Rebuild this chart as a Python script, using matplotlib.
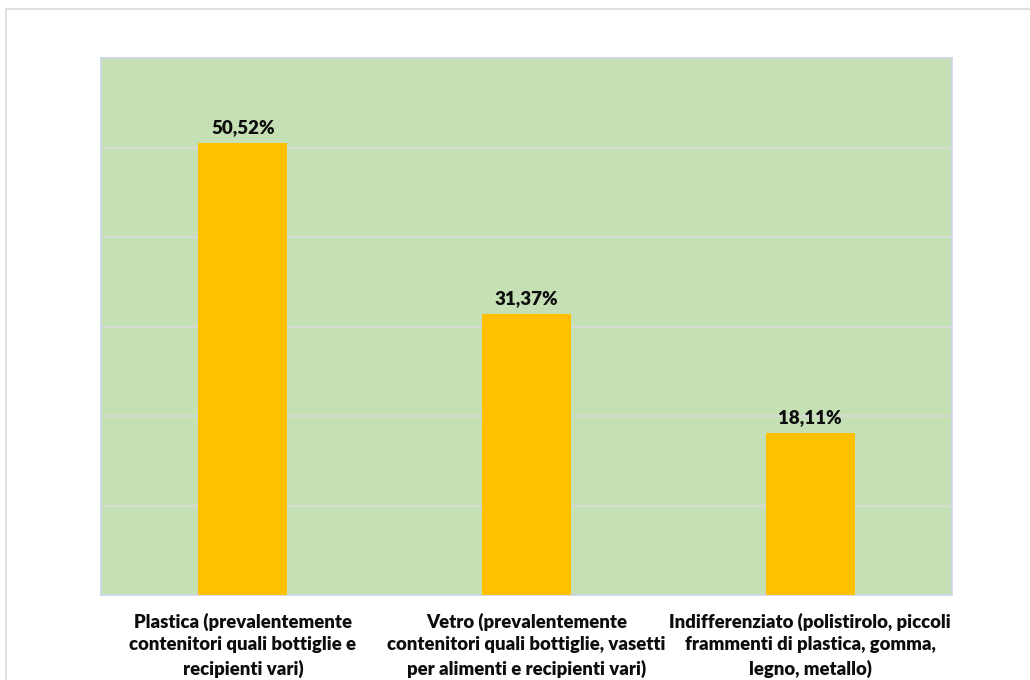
import matplotlib
matplotlib.use("Agg")
import matplotlib.pyplot as plt
from matplotlib.patches import Rectangle

categories = [
    "Plastica (prevalentemente\ncontenitori quali bottiglie e\nrecipienti vari)",
    "Vetro (prevalentemente\ncontenitori quali bottiglie, vasetti\nper alimenti e recipienti vari)",
    "Indifferenziato (polistirolo, piccoli\nframmenti di plastica, gomma,\nlegno, metallo)",
]
values = [50.52, 31.37, 18.11]
labels = ["50,52%", "31,37%", "18,11%"]

plt.rcParams["font.family"] = ["Lato", "DejaVu Sans"]

fig = plt.figure(figsize=(10.3, 6.8), dpi=100)
fig.patches.append(Rectangle((6 / 1030, -0.1), 1.2, (680 - 9) / 680 + 0.1,
                             transform=fig.transFigure, fill=False,
                             edgecolor="#D9D9D9", linewidth=1.2))

ax = fig.add_axes([101 / 1030, 85 / 680, 851 / 1030, 537 / 680])
ax.set_facecolor("#C5E0B4")

x = range(len(values))
bars = ax.bar(x, values, width=0.314, color="#FFC000", zorder=3)

ax.set_xlim(-0.5, 2.5)
ax.set_ylim(0, 60)
ax.set_yticks(range(0, 61, 10))
ax.yaxis.grid(True, color="#D9D9D9", linewidth=1.2, zorder=1)
ax.tick_params(axis="y", left=False, labelleft=False)
ax.tick_params(axis="x", bottom=False, pad=9)
ax.set_xticks(list(x))
ax.set_xticklabels(categories, fontsize=13.3, fontweight="heavy",
                   linespacing=1.42, color="#0D0D0D")

for s in ax.spines.values():
    s.set_color("#C9D5E8")
    s.set_linewidth(1.2)

for b, lab in zip(bars, labels):
    ax.annotate(lab, (b.get_x() + b.get_width() / 2, b.get_height()),
                xytext=(0, 5), textcoords="offset points",
                ha="center", va="bottom", fontsize=13.5, fontweight="heavy",
                color="#0D0D0D", zorder=4)

fig.savefig("out.png", dpi=100)
